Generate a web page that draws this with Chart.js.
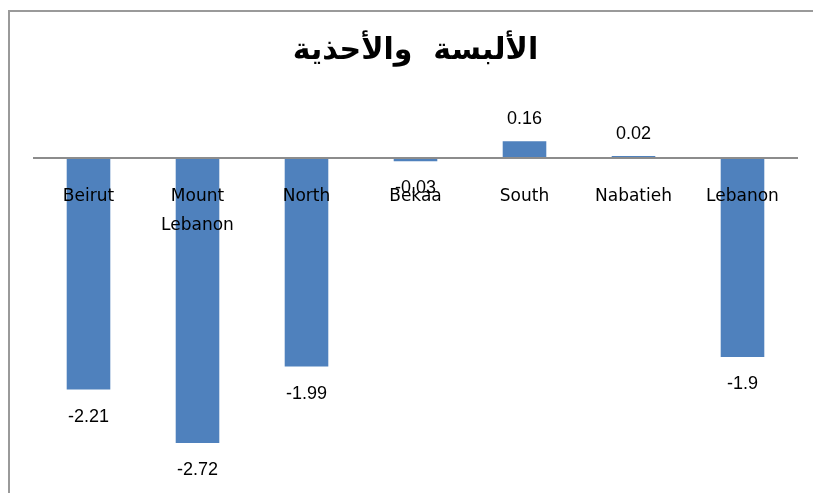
<!DOCTYPE html>
<html>
<head>
<meta charset="utf-8">
<script src="https://cdn.jsdelivr.net/npm/chart.js@4"></script>
<style>
  html, body { margin: 0; padding: 0; background: #fff; overflow: hidden; }
  #wrap { position: relative; width: 813px; height: 493px; }
  #frame { position: absolute; left: 8px; top: 10px; width: 900px; height: 600px; border: 2px solid #9a9a9a; box-sizing: border-box; }
  canvas { position: absolute; left: 0; top: 0; }
</style>
</head>
<body>
<div id="wrap">
  <div id="frame"></div>
  <canvas id="chart" width="813" height="493"></canvas>
</div>
<script>
const chartTitle = 'الألبسة  والأحذية';
const regions = ['Beirut', ['Mount', 'Lebanon'], 'North', 'Bekaa', 'South', 'Nabatieh', 'Lebanon'];
const changes = [-2.21, -2.72, -1.99, -0.03, 0.16, 0.02, -1.9];

// value text under negative bars, above positive ones
const valueLabels = {
  id: 'valueLabels',
  afterDraw(chart) {
    const ctx = chart.ctx;
    const meta = chart.getDatasetMeta(0);
    ctx.save();
    ctx.font = '18px "Liberation Sans", Arial, sans-serif';
    ctx.fillStyle = '#000';
    ctx.textAlign = 'center';
    ctx.textBaseline = 'middle';
    meta.data.forEach((bar, i) => {
      const v = changes[i];
      const y = v < 0 ? bar.y + 27 : bar.y - 22;
      ctx.fillText(String(v), bar.x, y);
    });
    ctx.restore();
  }
};

new Chart(document.getElementById('chart'), {
  type: 'bar',
  data: {
    labels: regions,
    datasets: [{
      data: changes,
      backgroundColor: '#4f81bd',
      borderWidth: 0,
      barPercentage: 0.4,
      categoryPercentage: 1
    }]
  },
  options: {
    responsive: false,
    animation: false,
    layout: { padding: { left: 34, right: 16, top: 0, bottom: 20.6 } },
    plugins: {
      legend: { display: false },
      tooltip: { enabled: false },
      title: {
        display: true,
        text: chartTitle,
        color: '#000',
        font: { family: '"DejaVu Sans", sans-serif', size: 30, weight: 'bold', lineHeight: 1.2 },
        padding: { top: 33, bottom: 36.6 }
      }
    },
    scales: {
      x: {
        position: { y: 0 },
        grid: { display: false, drawTicks: false },
        border: { display: true, color: '#8c8c8c', width: 2, z: 1 },
        ticks: {
          z: 1,
          color: '#000',
          padding: 24,
          maxRotation: 0,
          autoSkip: false,
          font: { family: '"DejaVu Sans", sans-serif', size: 17, lineHeight: 1.7 }
        }
      },
      y: {
        display: false,
        min: -3,
        max: 0.5
      }
    }
  },
  plugins: [valueLabels]
});
</script>
</body>
</html>
